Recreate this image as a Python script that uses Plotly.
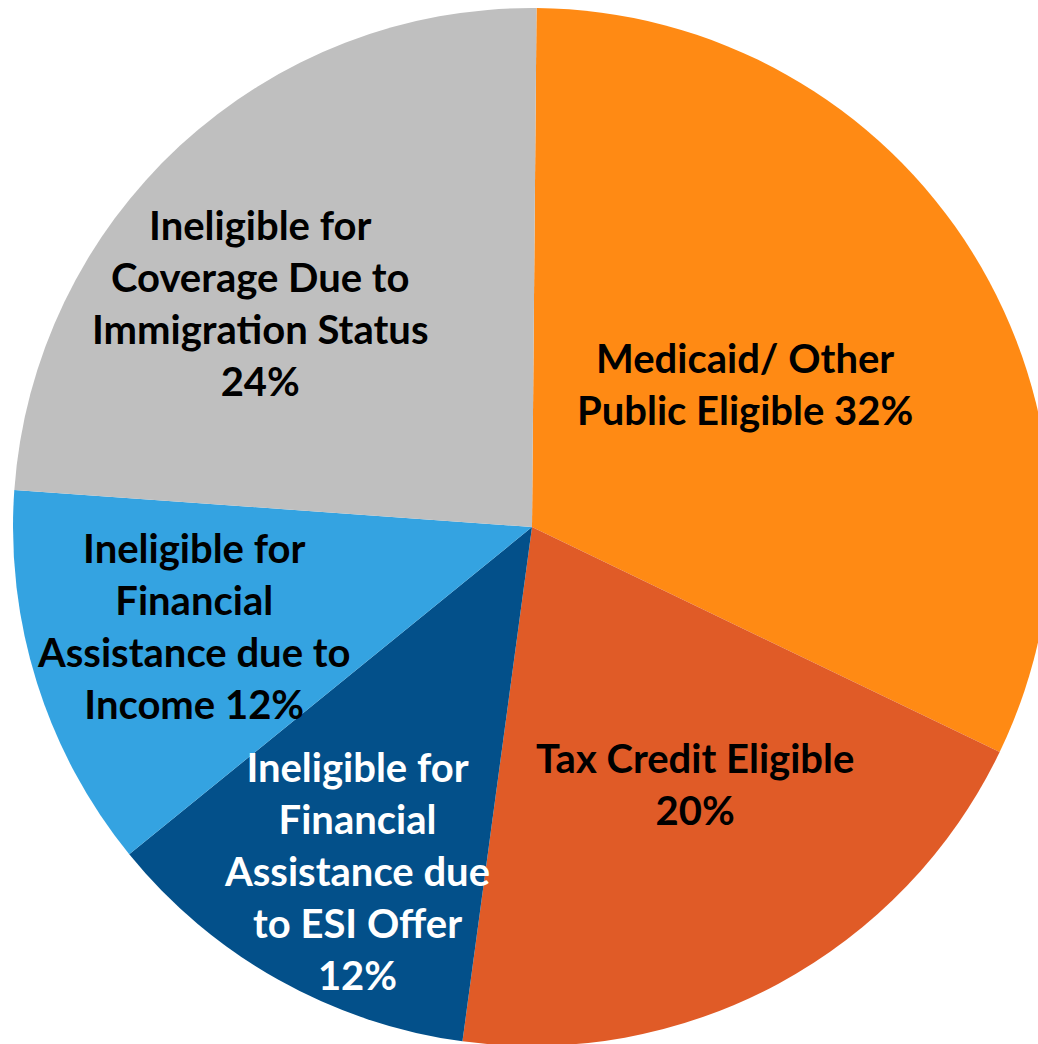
import plotly.graph_objects as go

# slices, clockwise from 12 o'clock
labels = [
    "Medicaid/ Other Public Eligible",
    "Tax Credit Eligible",
    "Ineligible for Financial Assistance due to ESI Offer",
    "Ineligible for Financial Assistance due to Income",
    "Ineligible for Coverage Due to Immigration Status",
]
values = [32, 20, 12, 12, 24]
colors = ["#FF8A14", "#E05B27", "#03508A", "#34A3E1", "#BFBFBF"]
text_colors = ["black", "black", "white", "black", "black"]

# how each label is broken into lines ({p} = percentage)
label_lines = [
    ["Medicaid/ Other", "Public Eligible {p}%"],
    ["Tax Credit Eligible", "{p}%"],
    ["Ineligible for", "Financial", "Assistance due", "to ESI Offer", "{p}%"],
    ["Ineligible for", "Financial", "Assistance due to", "Income {p}%"],
    ["Ineligible for", "Coverage Due to", "Immigration Status", "{p}%"],
]
# label block centres in page pixels
label_pos = [(745, 384), (695, 784), (357, 871), (193, 626), (260, 303)]

W, H = 1051, 1046
ML, MT = 13, 8
PW, PH = W - ML, H - MT

fig = go.Figure(go.Pie(
    labels=labels,
    values=values,
    sort=False,
    direction="clockwise",
    rotation=0.5,
    marker=dict(colors=colors, line=dict(width=0)),
    textinfo="none",
    hoverinfo="label+percent",
    showlegend=False,
))

FONT = "Lato, Open Sans, sans-serif"
for lines, v, (px, py), tc in zip(label_lines, values, label_pos, text_colors):
    txt = "<br>".join(l.format(p=v) for l in lines)
    fig.add_annotation(
        x=(px - ML) / PW, y=1 - (py - MT) / PH,
        xref="paper", yref="paper",
        text="<b>" + txt + "</b>",
        showarrow=False, align="center",
        xanchor="center", yanchor="middle",
        font=dict(family=FONT, size=40, color=tc),
    )

fig.update_layout(
    width=W, height=H,
    margin=dict(l=ML, r=0, t=MT, b=0, pad=0),
    paper_bgcolor="white", plot_bgcolor="white",
)

fig.write_html(
    "out.html",
    config={"displayModeBar": False},
    post_script="document.body.style.margin='0';document.body.style.overflow='hidden';",
)
